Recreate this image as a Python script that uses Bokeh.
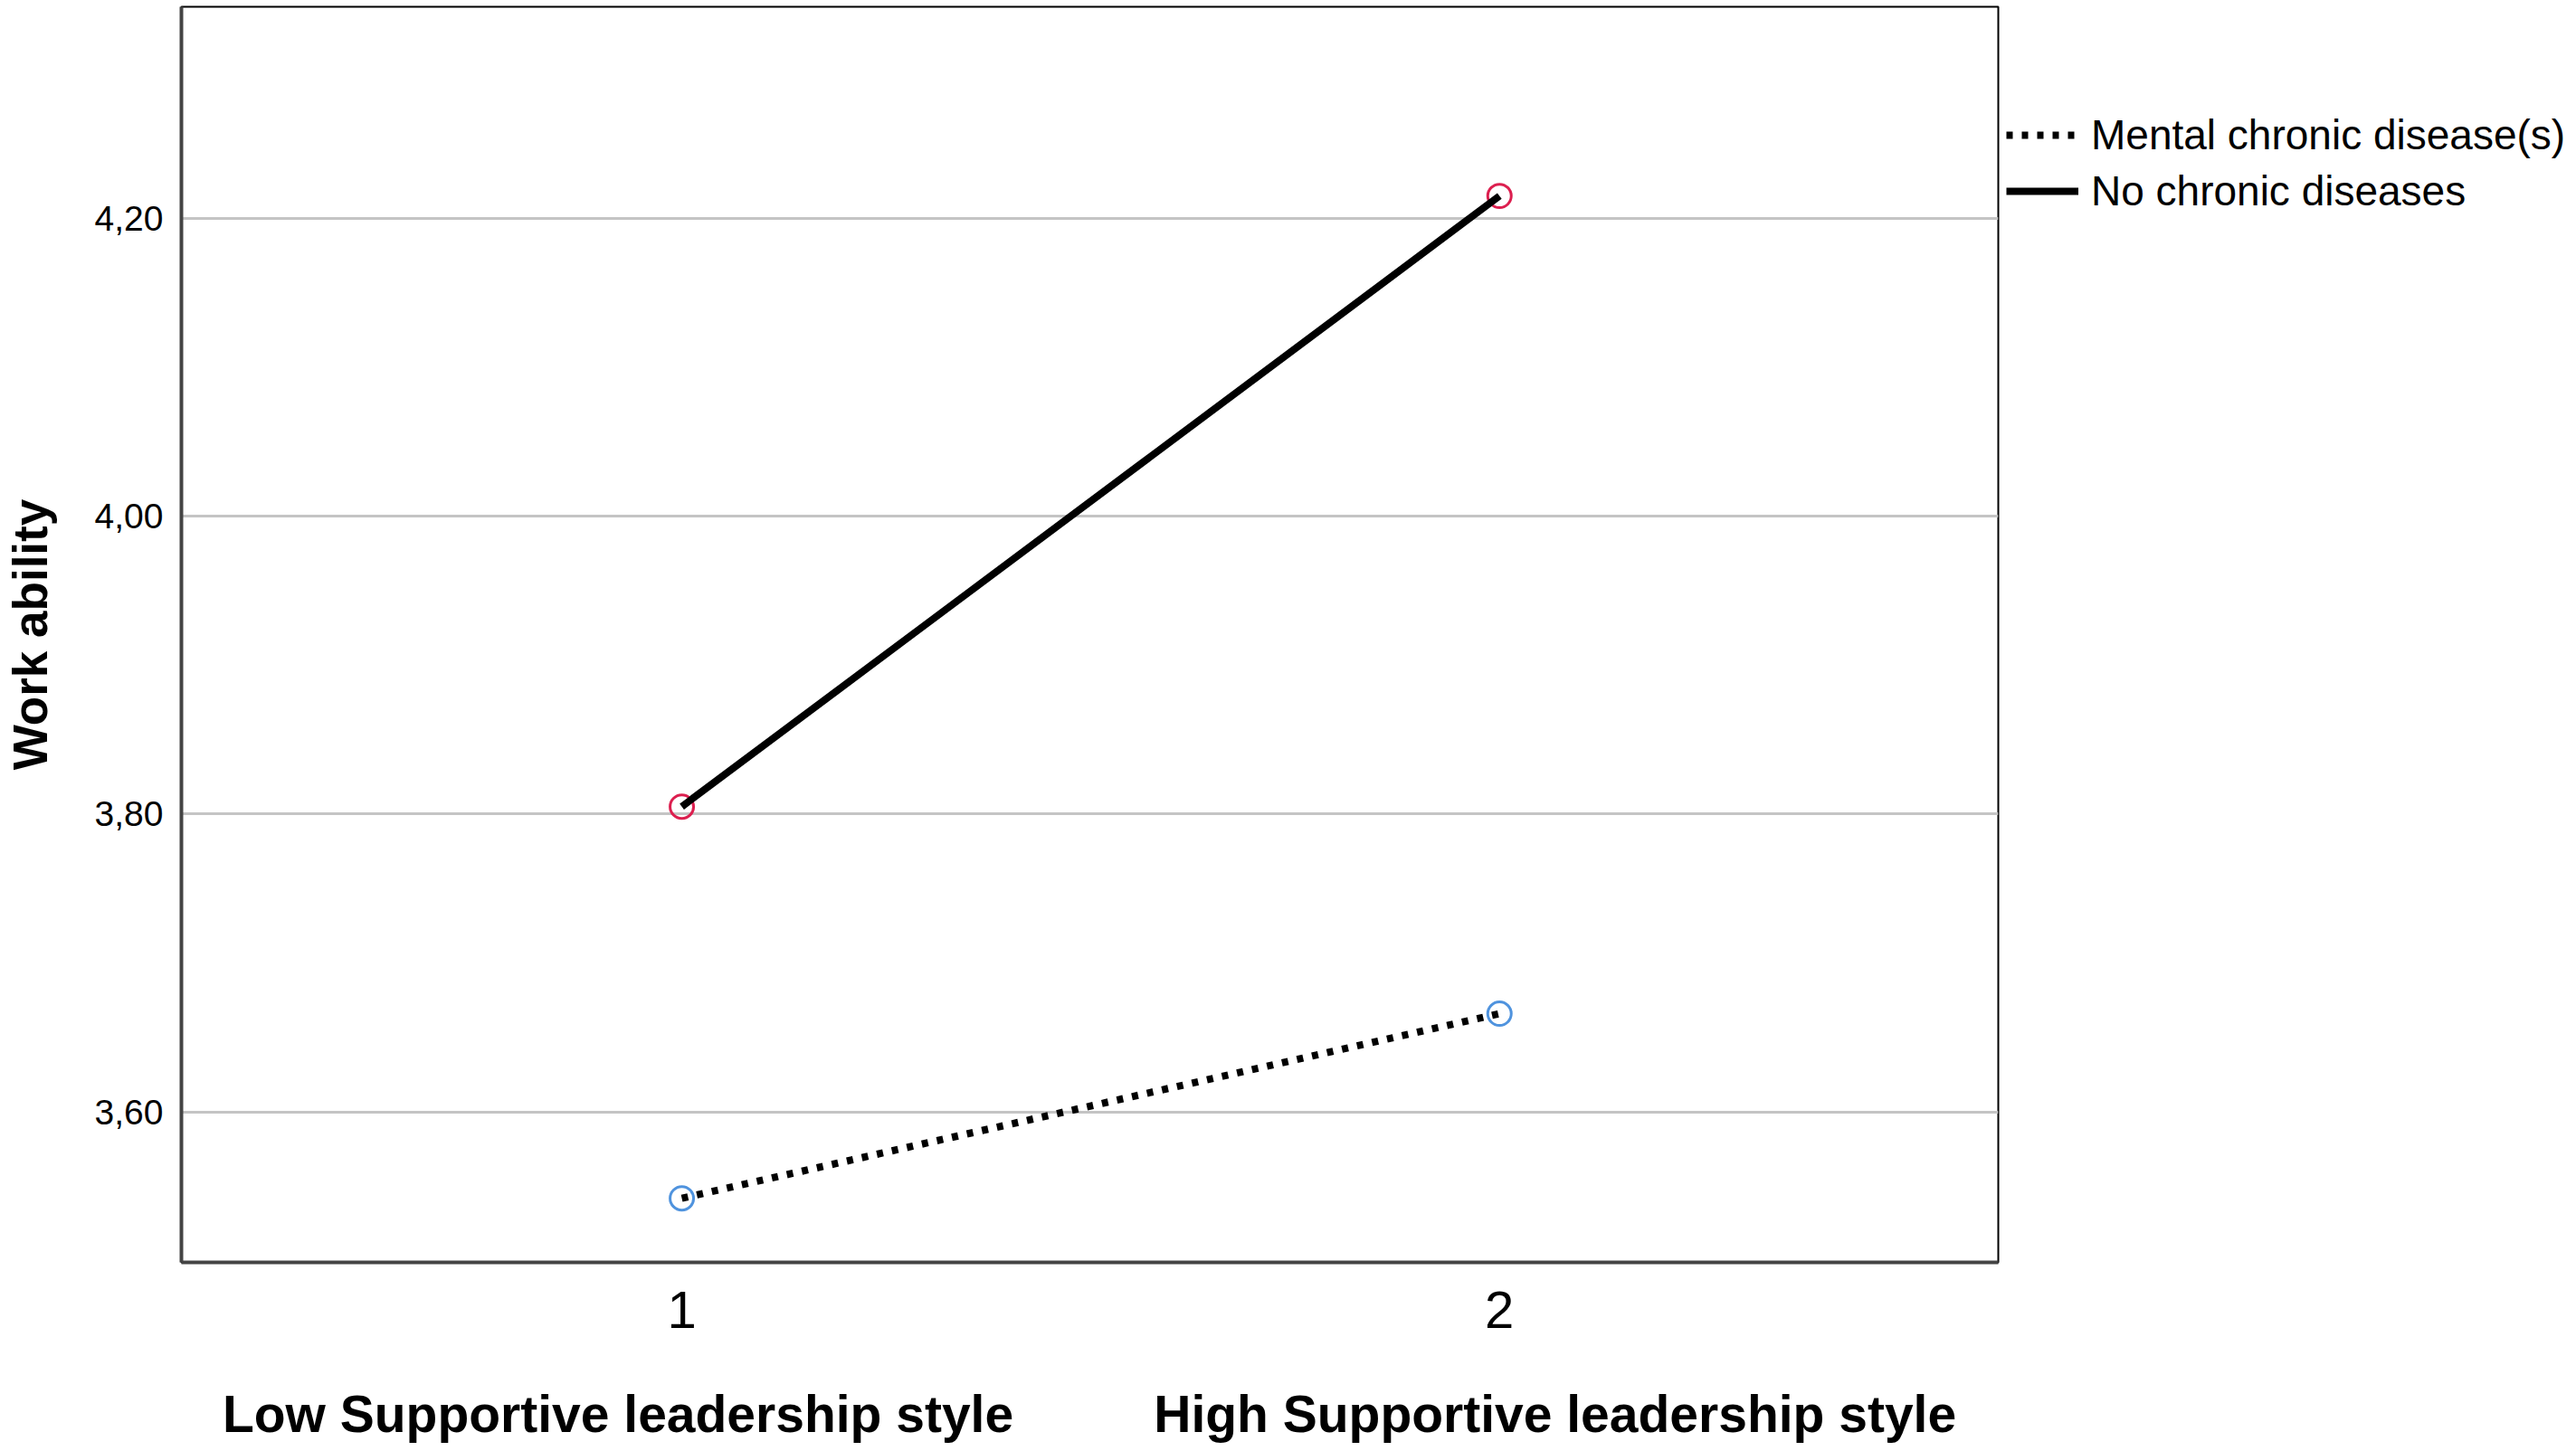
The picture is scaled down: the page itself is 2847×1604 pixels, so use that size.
from bokeh.plotting import figure
from bokeh.layouts import row
from bokeh.models import Range1d, LinearAxis, FixedTicker, Legend, LegendItem
from bokeh.embed import file_html
from bokeh.resources import INLINE

# ---- data ----
support_levels = [1, 2]
mental_values = [3.542, 3.666]
no_chronic_values = [3.805, 4.215]
series_names = ["Mental chronic disease(s)", "No chronic diseases"]
y_ticks = [3.60, 3.80, 4.00, 4.20]
y_tick_labels = ["3,60", "3,80", "4,00", "4,20"]
x_ticks = [1, 2]
x_tick_labels = ["1", "2"]
group_labels = ["Low Supportive leadership style", "High Supportive leadership style"]
group_label_pos = [0.922, 2.068]

# ---- styles ----
mental_style = dict(line_color="black", line_width=8, line_dash="7 10")
none_style = dict(line_color="black", line_width=8)
BORDER_TOP, BORDER_BOTTOM, FIG_H = 7, 209, 1604

p = figure(width=2210, height=FIG_H, output_backend="svg", toolbar_location=None,
           x_range=Range1d(0.388, 2.61), y_range=Range1d(3.499, 4.342),
           min_border_left=200, min_border_right=2, min_border_top=BORDER_TOP,
           min_border_bottom=BORDER_BOTTOM)
p.background_fill_color = "white"
p.border_fill_color = "white"
p.outline_line_color = "black"
p.outline_line_width = 2

# grid
p.xgrid.visible = False
p.ygrid.ticker = FixedTicker(ticks=y_ticks)
p.ygrid.grid_line_color = "#c4c4c4"
p.ygrid.grid_line_width = 3

# y axis
ya = p.yaxis[0]
ya.ticker = FixedTicker(ticks=y_ticks)
ya.major_label_overrides = dict(zip(y_ticks, y_tick_labels))
ya.major_tick_in = 0
ya.major_tick_out = 0
ya.minor_tick_in = 0
ya.minor_tick_out = 0
ya.axis_line_color = "#444444"
ya.axis_line_width = 4
ya.major_label_text_font = "Liberation Sans"
ya.major_label_text_font_size = "39px"
ya.major_label_text_color = "black"
ya.major_label_standoff = 20
ya.axis_label = "Work ability"
ya.axis_label_text_font = "Liberation Sans"
ya.axis_label_text_font_style = "bold"
ya.axis_label_text_font_size = "53px"
ya.axis_label_text_color = "black"
ya.axis_label_standoff = 39

# x axis (numeric levels)
xa = p.xaxis[0]
xa.ticker = FixedTicker(ticks=x_ticks)
xa.major_label_overrides = dict(zip(x_ticks, x_tick_labels))
xa.major_tick_in = 0
xa.major_tick_out = 0
xa.minor_tick_in = 0
xa.minor_tick_out = 0
xa.axis_line_color = "#444444"
xa.axis_line_width = 4
xa.major_label_text_font = "Liberation Sans"
xa.major_label_text_font_size = "58px"
xa.major_label_text_color = "black"
xa.major_label_standoff = 32

# second below axis: group labels
ga = LinearAxis(ticker=FixedTicker(ticks=group_label_pos),
                major_label_overrides=dict(zip(group_label_pos, group_labels)))
ga.axis_line_color = None
ga.major_tick_in = 0
ga.major_tick_out = 0
ga.minor_tick_in = 0
ga.minor_tick_out = 0
ga.major_label_text_font = "Liberation Sans"
ga.major_label_text_font_style = "bold"
ga.major_label_text_font_size = "57px"
ga.major_label_text_color = "black"
ga.major_label_standoff = 60
p.add_layout(ga, "below")

# markers (under the lines)
p.scatter(support_levels, mental_values, marker="circle", size=26,
          fill_color=None, line_color="#4f93de", line_width=3)
p.scatter(support_levels, no_chronic_values, marker="circle", size=26,
          fill_color=None, line_color="#dc1f4f", line_width=3)

p.line(support_levels, mental_values, **mental_style)
p.line(support_levels, no_chronic_values, **none_style)

# ---- legend panel to the right of the plot box (same vertical borders) ----
# the same series are drawn here outside this panel's visible range, so
# only their legend entries show
q = figure(width=637, height=FIG_H, output_backend="svg", toolbar_location=None,
           x_axis_location=None, y_axis_location=None,
           x_range=Range1d(-2, -1), y_range=Range1d(-2, -1),
           min_border_left=0, min_border_right=0, min_border_top=BORDER_TOP,
           min_border_bottom=BORDER_BOTTOM)
q.outline_line_color = None
q.xgrid.visible = False
q.ygrid.visible = False
q.background_fill_color = "white"
q.border_fill_color = "white"
lm = q.line(support_levels, mental_values, **mental_style)
ln = q.line(support_levels, no_chronic_values, **none_style)

frame_h = FIG_H - BORDER_TOP - BORDER_BOTTOM
legend_top = 118 - BORDER_TOP
legend = Legend(items=[LegendItem(label=series_names[0], renderers=[lm]),
                       LegendItem(label=series_names[1], renderers=[ln])],
                location=(7, frame_h - legend_top - 124),
                glyph_width=80, glyph_height=62,
                label_height=62, spacing=0, padding=0, margin=0,
                label_standoff=14, border_line_color=None,
                background_fill_alpha=0,
                label_text_font="Liberation Sans",
                label_text_font_size="46px", label_text_color="black")
q.add_layout(legend, "center")

layout = row(p, q)
open("out.html", "w").write(file_html(layout, INLINE))
